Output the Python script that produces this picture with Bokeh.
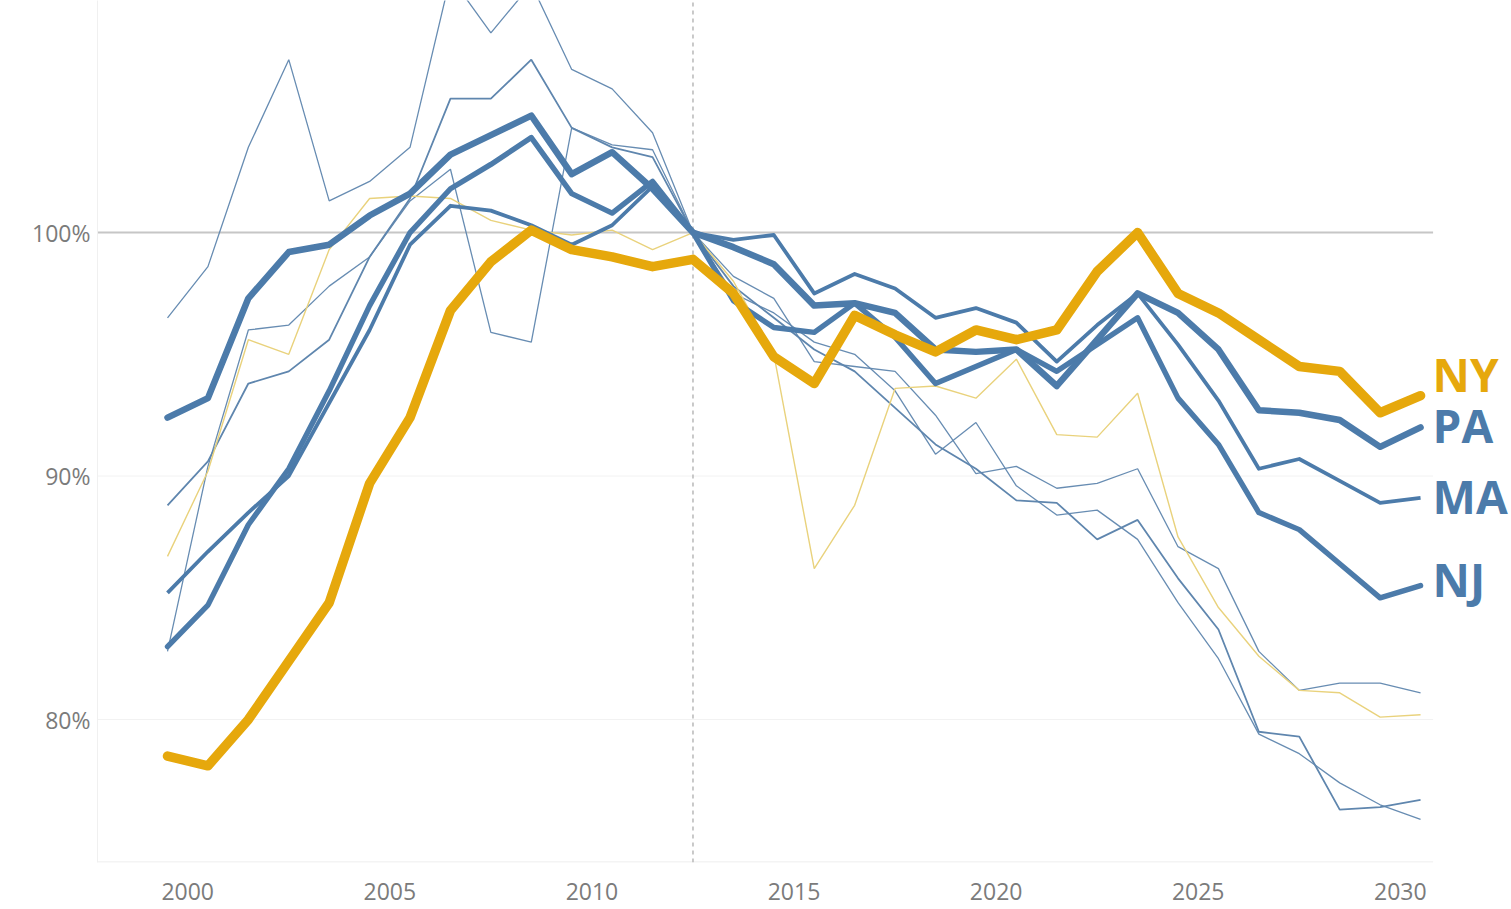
from bokeh.plotting import figure
from bokeh.models import FixedTicker, Range1d
from bokeh.core.properties import value
from bokeh.embed import file_html
from bokeh.resources import INLINE

years = list(range(2000, 2032))

ny = [78.5, 78.1, 80.0, 82.4, 84.8, 89.7, 92.4, 96.8, 98.8, 100.1, 99.3, 99.0, 98.6, 98.9,
      97.5, 94.9, 93.8, 96.6, 95.8, 95.1, 96.0, 95.6, 96.0, 98.4, 100.0, 97.5, 96.7, 95.6,
      94.5, 94.3, 92.6, 93.3]
pa = [92.4, 93.2, 97.3, 99.2, 99.5, 100.7, 101.6, 103.2, 104.0, 104.8, 102.4, 103.3, 101.8, 100.0,
      99.4, 98.7, 97.0, 97.1, 96.7, 95.2, 95.1, 95.2, 93.7, 95.6, 97.5, 96.7, 95.2, 92.7,
      92.6, 92.3, 91.2, 92.0]
ma = [85.2, 86.9, 88.5, 90.0, 93.0, 96.0, 99.5, 101.1, 100.9, 100.3, 99.5, 100.3, 101.9, 100.0,
      99.7, 99.9, 97.5, 98.3, 97.7, 96.5, 96.9, 96.3, 94.7, 96.2, 97.5, 95.4, 93.1, 90.3,
      90.7, 89.8, 88.9, 89.1]
nj = [83.0, 84.7, 88.0, 90.3, 93.5, 97.0, 100.0, 101.8, 102.8, 103.9, 101.6, 100.8, 102.1, 100.0,
      97.2, 96.1, 95.9, 97.1, 95.7, 93.8, 94.5, 95.2, 94.3, 95.4, 96.5, 93.2, 91.3, 88.5,
      87.8, 86.4, 85.0, 85.5]
other_gold = [86.7, 90.2, 95.6, 95.0, 99.3, 101.4, 101.5, 101.4, 100.5, 100.1, 99.9, 100.1, 99.3, 100.0,
              98.0, 95.0, 86.2, 88.8, 93.6, 93.7, 93.2, 94.8, 91.7, 91.6, 93.4, 87.5, 84.6, 82.6,
              81.2, 81.1, 80.1, 80.2]
other_a = [96.5, 98.6, 103.5, 107.1, 101.3, 102.1, 103.5, 110.5, 108.2, 110.2, 106.7, 105.9, 104.1, 100.0,
           98.2, 97.3, 94.7, 94.5, 94.3, 92.5, 90.1, 90.4, 89.5, 89.7, 90.3, 87.1, 86.2, 82.8,
           81.2, 81.5, 81.5, 81.1]
other_b = [88.8, 90.6, 93.8, 94.3, 95.6, 99.0, 101.4, 105.5, 105.5, 107.1, 104.3, 103.5, 103.1, 100.0,
           97.8, 96.5, 95.2, 94.3, 92.8, 91.3, 90.3, 89.0, 88.9, 87.4, 88.2, 85.8, 83.7, 79.5,
           79.3, 76.3, 76.4, 76.7]
other_c = [82.8, 90.4, 96.0, 96.2, 97.8, 99.0, 101.3, 102.6, 95.9, 95.5, 104.3, 103.6, 103.4, 100.0,
           97.5, 96.7, 95.5, 95.0, 93.5, 90.9, 92.2, 89.6, 88.4, 88.6, 87.4, 84.8, 82.5, 79.4,
           78.6, 77.4, 76.5, 75.9]

tick_years = [2000, 2005, 2010, 2015, 2020, 2025, 2030]
y_ticks = [80, 90, 100]
base_year = 2013
series_labels = ["NY", "PA", "MA", "NJ"]

GOLD = "#E6A80C"
GOLD_LIGHT = "#E9D27C"
BLUE = "#4C7BAA"
BLUE_THIN = "#5F86AE"

X0, X_PLOT_END, X1 = 1998.268, 2031.31, 2033.25
Y0, Y1 = 74.13, 109.53

p = figure(width=1511, height=909, output_backend="svg", toolbar_location=None,
           x_range=Range1d(X0, X1), y_range=Range1d(Y0, Y1),
           min_border_left=97, min_border_right=0, min_border_top=0, min_border_bottom=47)
p.background_fill_color = "white"
p.border_fill_color = "white"
p.outline_line_color = None
p.xgrid.grid_line_color = None
p.ygrid.grid_line_color = None

p.yaxis.ticker = FixedTicker(ticks=y_ticks)
p.yaxis.major_label_overrides = {t: f"{t}%" for t in y_ticks}
p.xaxis.ticker = FixedTicker(ticks=[t + 0.5 for t in tick_years])
p.xaxis.major_label_overrides = {t + 0.5: str(t) for t in tick_years}
for ax in (p.xaxis, p.yaxis):
    ax.major_tick_line_color = None
    ax.minor_tick_line_color = None
    ax.major_label_text_font = "Open Sans"
    ax.major_label_text_font_size = "23px"
    ax.major_label_text_color = "#7b7b7b"
p.yaxis.axis_line_color = "#f0f0f0"
p.xaxis.axis_line_color = None
p.xaxis.major_label_standoff = 14
p.yaxis.major_label_standoff = 1

# faint grid lines, bottom frame line and the 100% reference line (end at the plot edge)
p.segment(x0=[X0] * 2, y0=[90, 80], x1=[X_PLOT_END] * 2, y1=[90, 80], line_color="#f2f2f2", line_width=1)
p.segment(x0=[X0], y0=[Y0 + 0.02], x1=[X_PLOT_END], y1=[Y0 + 0.02], line_color="#f0f0f0", line_width=1.5)
p.segment(x0=[X0], y0=[100], x1=[X_PLOT_END], y1=[100], line_color="#c6c6c6", line_width=2)
p.segment(x0=[base_year], y0=[Y0], x1=[base_year], y1=[Y1], line_color="#b8b8b8",
          line_width=1.5, line_dash="4 4")

for s in (other_a, other_c):
    p.line(years, s, line_color=BLUE_THIN, line_width=1.3, line_alpha=0.95)
p.line(years, other_b, line_color=BLUE_THIN, line_width=1.8)
p.line(years, other_gold, line_color=GOLD_LIGHT, line_width=1.4)
p.line(years, ma, line_color=BLUE, line_width=3.8, line_join="round")
p.line(years, nj, line_color=BLUE, line_width=5.4, line_join="round", line_cap="round")
p.line(years, pa, line_color=BLUE, line_width=6.5, line_join="round", line_cap="round")
p.line(years, ny, line_color=GOLD, line_width=9.5, line_join="round", line_cap="round")

ends = [ny[-1] + 0.8, pa[-1], ma[-1], nj[-1] + 0.2]
cols = [GOLD, BLUE, BLUE, BLUE]
p.text(x=[years[-1]] * 4, y=ends, text=series_labels, text_color=cols,
       x_offset=12, y_offset=-2, text_baseline="middle", text_align="left",
       text_font=value("Open Sans"), text_font_style="bold", text_font_size="46px")

open("out.html", "w").write(file_html(p, INLINE))
